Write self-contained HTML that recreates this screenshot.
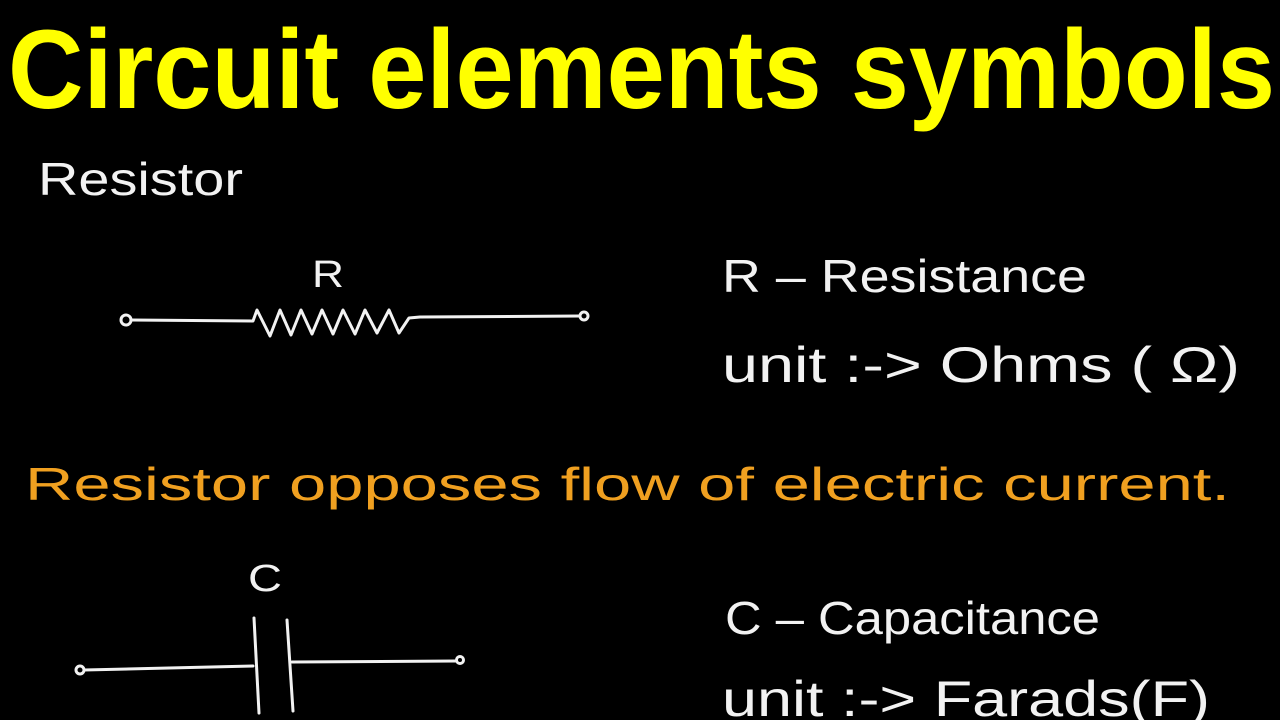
<!DOCTYPE html>
<html><head><meta charset="utf-8"><style>
html,body{margin:0;padding:0;background:#000;width:1280px;height:720px;overflow:hidden}
svg{display:block}
text{font-family:"Liberation Sans",sans-serif}
</style></head><body>
<svg width="1280" height="720" viewBox="0 0 1280 720" xmlns="http://www.w3.org/2000/svg">
<rect width="1280" height="720" fill="#000"/>
<text x="8" y="108" font-size="112" font-weight="bold" fill="#ffff00" textLength="1267" lengthAdjust="spacingAndGlyphs">Circuit elements symbols</text>
<g fill="#f2f2f2" font-size="46">
<text x="38" y="195" textLength="205" lengthAdjust="spacingAndGlyphs">Resistor</text>
<text x="312" y="287" font-size="38" textLength="32" lengthAdjust="spacingAndGlyphs">R</text>
<text x="722" y="292" textLength="365" lengthAdjust="spacingAndGlyphs">R –  Resistance</text>
<text x="722" y="382" font-size="50" textLength="518" lengthAdjust="spacingAndGlyphs">unit :-&gt; Ohms ( Ω)</text>
<text x="248" y="591" font-size="38" textLength="34" lengthAdjust="spacingAndGlyphs">C</text>
<text x="725" y="634" textLength="375" lengthAdjust="spacingAndGlyphs">C – Capacitance</text>
<text x="722" y="716" font-size="50" textLength="488" lengthAdjust="spacingAndGlyphs">unit :-&gt; Farads(F)</text>
</g>
<text x="25" y="500" font-size="46" fill="#f0a020" textLength="1205" lengthAdjust="spacingAndGlyphs">Resistor  opposes  flow  of  electric  current.</text>
<g stroke="#f2f2f2" stroke-width="3" fill="none" stroke-linecap="round" stroke-linejoin="round">
<circle cx="126" cy="320" r="5"/>
<path d="M131 320 L253 321 L257 310 L270 336 L280 310 L291 335 L301 310 L312 334 L322 310 L333 334 L343 310 L355 334 L365 310 L377 333 L389 310 L399 333 L409 318 L420 317 L580 316"/>
<circle cx="584" cy="316" r="4"/>
<circle cx="80" cy="670" r="4"/>
<path d="M84 670 L253 666"/>
<path d="M254 618 L259 713"/>
<path d="M287 620 L293 711"/>
<path d="M292 662 L456 661"/>
<circle cx="460" cy="660" r="3.5"/>
</g>
</svg>
</body></html>
